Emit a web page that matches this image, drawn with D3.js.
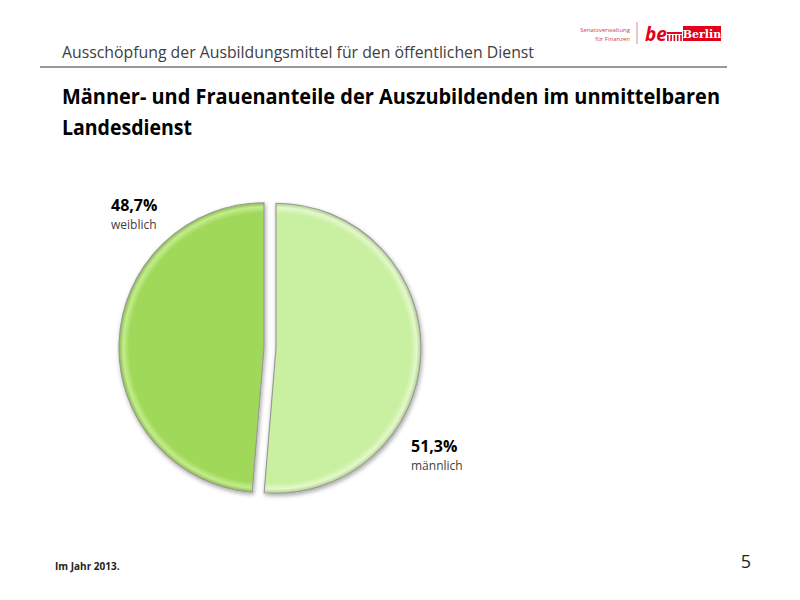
<!DOCTYPE html>
<html>
<head>
<meta charset="utf-8">
<script src="https://cdn.jsdelivr.net/npm/d3@7"></script>
<style>
  body { margin: 0; background: #fff; }
  svg { display: block; }
</style>
</head>
<body>
<svg width="800" height="600"></svg>
<script>
// Anteile der Auszubildenden, Landesdienst 2013
const categories = ['männlich', 'weiblich'];
const values = [51.3, 48.7];
const valueLabels = ['51,3%', '48,7%'];
const fills = ['#c9f0a0', '#a0d95a'];
const rims = ['#e4f8cc', '#c4ec8c'];

const svg = d3.select('svg');
const font = '"Open Sans", "DejaVu Sans", sans-serif';

// page header
svg.append('text')
    .attr('x', 62).attr('y', 58)
    .attr('font-family', font)
    .attr('font-size', 16.5)
    .attr('fill', '#404040')
    .attr('textLength', 472)
    .attr('lengthAdjust', 'spacingAndGlyphs')
    .text('Ausschöpfung der Ausbildungsmittel für den öffentlichen Dienst');

svg.append('line')
    .attr('x1', 40).attr('x2', 727)
    .attr('y1', 67).attr('y2', 67)
    .attr('stroke', '#999').attr('stroke-width', 2);

// logo
const logo = svg.append('g');
logo.append('text').attr('x', 630).attr('y', 32).attr('text-anchor', 'end')
    .attr('font-family', font).attr('font-size', 6).attr('fill', '#d2404a')
    .text('Senatsverwaltung');
logo.append('text').attr('x', 630).attr('y', 41).attr('text-anchor', 'end')
    .attr('font-family', font).attr('font-size', 6).attr('fill', '#d2404a')
    .text('für Finanzen');
logo.append('line').attr('x1', 637).attr('x2', 637).attr('y1', 22).attr('y2', 44)
    .attr('stroke', '#e08a90').attr('stroke-width', 1);
logo.append('text').attr('x', 645).attr('y', 41)
    .attr('font-family', font).attr('font-size', 19).attr('font-weight', 'bold')
    .attr('font-style', 'italic').attr('fill', '#e2001a')
    .text('be');
const gate = logo.append('g').attr('fill', '#e2001a');
gate.append('rect').attr('x', 667).attr('y', 32).attr('width', 15).attr('height', 2);
[667, 670.3, 673.6, 676.9, 680.2].forEach(x => {
    gate.append('rect').attr('x', x).attr('y', 35).attr('width', 1.6).attr('height', 6);
});
logo.append('rect').attr('x', 683).attr('y', 26).attr('width', 38).attr('height', 15)
    .attr('fill', '#e2001a');
logo.append('text').attr('x', 702).attr('y', 38).attr('text-anchor', 'middle')
    .attr('font-family', '"DejaVu Serif", serif').attr('font-size', 11).attr('font-weight', 'bold')
    .attr('fill', '#fff').text('Berlin');

// chart title
const titleLines = ['Männer- und Frauenanteile der Auszubildenden im unmittelbaren', 'Landesdienst'];
svg.append('text')
    .attr('x', 62).attr('y', 104)
    .attr('font-family', font).attr('font-size', 22).attr('font-weight', 'bold')
    .attr('fill', '#000')
    .attr('textLength', 658).attr('lengthAdjust', 'spacingAndGlyphs')
    .text(titleLines[0]);
svg.append('text')
    .attr('x', 62).attr('y', 135)
    .attr('font-family', font).attr('font-size', 22).attr('font-weight', 'bold')
    .attr('fill', '#000')
    .attr('textLength', 130).attr('lengthAdjust', 'spacingAndGlyphs')
    .text(titleLines[1]);

// pie
const cx = 270, cy = 348, radius = 145, explode = 6;
const pie = d3.pie().sort(null).value(d => d)(values);
const arc = d3.arc().innerRadius(0).outerRadius(radius);

const defs = svg.append('defs');
fills.forEach((c, i) => {
    const g = defs.append('radialGradient').attr('id', 'grad' + i)
        .attr('gradientUnits', 'userSpaceOnUse')
        .attr('cx', 0).attr('cy', 0).attr('r', radius);
    g.append('stop').attr('offset', '0%').attr('stop-color', c);
    g.append('stop').attr('offset', '93%').attr('stop-color', c);
    g.append('stop').attr('offset', '97%').attr('stop-color', rims[i]);
    g.append('stop').attr('offset', '100%').attr('stop-color', d3.color(c).darker(0.4));
});
const shadow = defs.append('filter').attr('id', 'shadow')
    .attr('x', '-20%').attr('y', '-20%').attr('width', '140%').attr('height', '140%');
shadow.append('feDropShadow').attr('dx', 1).attr('dy', 2).attr('stdDeviation', 2)
    .attr('flood-color', '#000').attr('flood-opacity', 0.35);

const pieG = svg.append('g').attr('transform', `translate(${cx},${cy})`);

pieG.selectAll('path.slice')
    .data(pie)
    .join('path')
    .attr('class', 'slice')
    .attr('transform', d => {
        const a = (d.startAngle + d.endAngle) / 2;
        return `translate(${Math.sin(a) * explode},${-Math.cos(a) * explode})`;
    })
    .attr('d', arc)
    .attr('fill', (_d, i) => `url(#grad${i})`)
    .attr('stroke', '#9a9a9a')
    .attr('stroke-width', 1.2)
    .attr('filter', 'url(#shadow)');

// labels
const labelPos = [[411, 452], [111, 211]];
pie.forEach((d, i) => {
    const [x, y] = labelPos[i];
    svg.append('text')
        .attr('x', x).attr('y', y)
        .attr('font-family', font).attr('font-size', 16).attr('font-weight', 'bold')
        .attr('fill', '#000')
        .text(valueLabels[i]);
    svg.append('text')
        .attr('x', x).attr('y', y + 18)
        .attr('font-family', font).attr('font-size', 12)
        .attr('fill', '#404040')
        .text(categories[i]);
});

// footer
svg.append('text')
    .attr('x', 55).attr('y', 570)
    .attr('font-family', font).attr('font-size', 10).attr('font-weight', 'bold')
    .attr('fill', '#222')
    .text('Im Jahr 2013.');
svg.append('text')
    .attr('x', 751).attr('y', 568).attr('text-anchor', 'end')
    .attr('font-family', font).attr('font-size', 18)
    .attr('fill', '#222')
    .text('5');
</script>
</body>
</html>
